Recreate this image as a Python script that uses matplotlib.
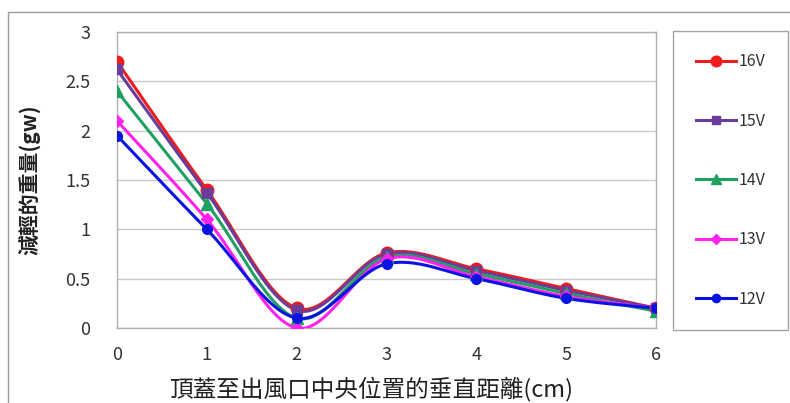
import numpy as np
import matplotlib
matplotlib.use("Agg")
import matplotlib.pyplot as plt
from matplotlib.patches import Rectangle

plt.rcParams['font.family'] = ['Noto Sans CJK TC', 'DejaVu Sans']

# distance from lid to outlet centre (cm)
distance = [0, 1, 2, 3, 4, 5, 6]
series_labels = ['16V', '15V', '14V', '13V', '12V']
v16 = [2.70, 1.40, 0.20, 0.76, 0.60, 0.40, 0.20]
v15 = [2.62, 1.37, 0.18, 0.75, 0.58, 0.38, 0.20]
v14 = [2.40, 1.26, 0.10, 0.72, 0.55, 0.35, 0.17]
v13 = [2.10, 1.10, 0.00, 0.70, 0.52, 0.32, 0.20]
v12 = [1.95, 1.00, 0.10, 0.65, 0.50, 0.30, 0.20]
y_ticks = [0, 0.5, 1, 1.5, 2, 2.5, 3]
y_tick_labels = ['0', '0.5', '1', '1.5', '2', '2.5', '3']

colors = ['#ee1c1c', '#6a3d9a', '#1fa060', '#ff22ee', '#0a14e0']
markers = ['o', 's', '^', 'D', 'o']
msizes = [9, 6.5, 9, 6, 7]


def smooth(xs, ys, n=30):
    """Cubic Bezier smoothing through every point (Catmull-Rom style)."""
    xs = np.asarray(xs, float)
    ys = np.asarray(ys, float)
    px = np.concatenate([[xs[0]], xs, [xs[-1]]])
    py = np.concatenate([[ys[0]], ys, [ys[-1]]])
    outx, outy = [], []
    t = np.linspace(0, 1, n)
    for i in range(1, len(px) - 2):
        p0 = np.array([px[i], py[i]])
        p3 = np.array([px[i + 1], py[i + 1]])
        c1 = p0 + (np.array([px[i + 1], py[i + 1]]) - np.array([px[i - 1], py[i - 1]])) / 6
        c2 = p3 - (np.array([px[i + 2], py[i + 2]]) - np.array([px[i], py[i]])) / 6
        b = ((1 - t) ** 3)[:, None] * p0 + (3 * (1 - t) ** 2 * t)[:, None] * c1 \
            + (3 * (1 - t) * t ** 2)[:, None] * c2 + (t ** 3)[:, None] * p3
        outx.extend(b[:, 0])
        outy.extend(b[:, 1])
    return np.array(outx), np.array(outy)


fig = plt.figure(figsize=(7.9, 4.03), dpi=100)
fig.patches.append(Rectangle((8 / 790, -0.1), 1.0, (403 - 12) / 403 + 0.1,
                             transform=fig.transFigure, fill=False,
                             edgecolor='#9a9a9a', linewidth=1.0))

ax = fig.add_axes([117 / 790, 1 - 328 / 403, (656 - 117) / 790, (328 - 32) / 403])

handles = []
for vals, lab, c, m, ms in zip([v16, v15, v14, v13, v12], series_labels, colors, markers, msizes):
    sx, sy = smooth(distance, vals)
    ax.plot(sx, sy, color=c, linewidth=2.2, solid_capstyle='round', zorder=3)
    ax.plot(distance, vals, linestyle='none', marker=m, markersize=ms,
            color=c, markeredgecolor=c, zorder=4)
    h, = ax.plot([], [], color=c, linewidth=2.2, marker=m, markersize=ms * 0.85)
    handles.append(h)

ax.set_xlim(0, 6)
ax.set_ylim(0, 3)
ax.set_yticks(y_ticks)
ax.set_yticklabels(y_tick_labels)
ax.set_xticks(distance)
ax.grid(axis='y', color='#c8c8c8', linewidth=1.0)
ax.set_axisbelow(True)
for s in ax.spines.values():
    s.set_color('#b0b0b0')
    s.set_linewidth(1.0)
ax.tick_params(axis='both', length=0, labelsize=13, colors='#333333')
ax.tick_params(axis='x', pad=13)
ax.tick_params(axis='y', pad=19)

ax.set_xlabel('頂蓋至出風口中央位置的垂直距離(cm)', fontsize=17, color='#222222')
ax.xaxis.set_label_coords((371 - 117) / 539, -(389 - 328) / 296)
ax.xaxis.label.set_verticalalignment('center')
ax.set_ylabel('減輕的重量(gw)', fontsize=15, color='#222222', fontweight='bold', labelpad=18)

leg = fig.legend(handles, series_labels,
                 bbox_to_anchor=(672 / 790, 1 - 329 / 403, 117 / 790, 297 / 403),
                 loc='center', frameon=True, fancybox=False, fontsize=11.5,
                 labelspacing=2.65, handlelength=2.5, handletextpad=0.15,
                 borderpad=1.42)
leg.get_frame().set_edgecolor('#8c8c8c')
leg.get_frame().set_linewidth(1.0)
for t in leg.get_texts():
    t.set_color('#333333')

fig.savefig('out.png', dpi=100)
